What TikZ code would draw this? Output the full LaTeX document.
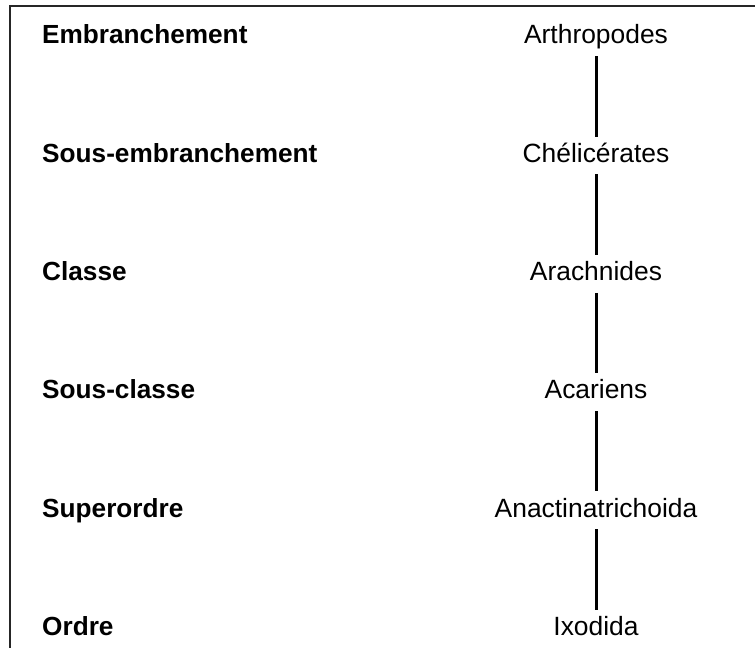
\documentclass[tikz,border=0pt]{standalone}
\usepackage{fontspec}
\setmainfont{Liberation Sans}
\begin{document}
\begin{tikzpicture}[x=1pt,y=1pt,
  rank/.style={anchor=base west,inner sep=0pt,font=\fontsize{26.2}{30}\selectfont\bfseries},
  taxon/.style={anchor=base,font=\fontsize{26.4}{30}\selectfont,text height=19pt,text depth=5.5pt,inner xsep=0pt,inner ysep=6.5pt},
  link/.style={line width=3pt},
  frame/.style={line width=1.8pt,draw=black!85}]
\useasboundingbox (0,0) rectangle (755,648);
\draw[frame] (755,642) -- (10,642) -- (10,0);
\foreach \n/\r/\t [count=\i from 0] in {e/Embranchement/Arthropodes, s/Sous-embranchement/Chélicérates, c/Classe/Arachnides, sc/Sous-classe/Acariens, so/Superordre/Anactinatrichoida, o/Ordre/Ixodida}{
  \node[rank] (r\n) at (42,{648-44-118.3*\i}) {\r};
  \node[taxon] (t\n) at (596,{648-44-118.3*\i}) {\t};
}
\draw[link] (te.south) -- (ts.north);
\draw[link] (ts.south) -- (tc.north);
\draw[link] (tc.south) -- (tsc.north);
\draw[link] (tsc.south) -- (tso.north);
\draw[link] (tso.south) -- (to.north);
\end{tikzpicture}
\end{document}
